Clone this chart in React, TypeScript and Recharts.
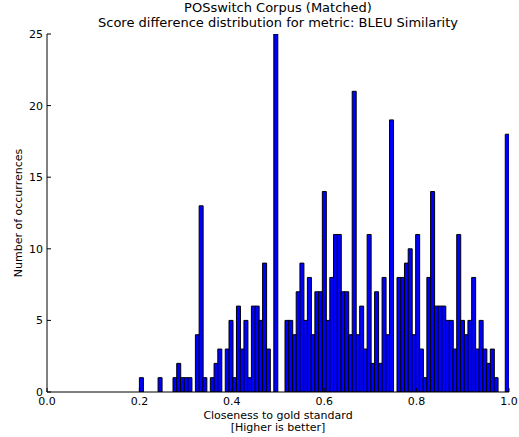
import React from "react";
import { BarChart, Bar, XAxis, YAxis } from "recharts";

const titleLines = ["POSswitch Corpus (Matched)", "Score difference distribution for metric: BLEU Similarity"];
const xLabelLines = ["Closeness to gold standard", "[Higher is better]"];
const yLabel = "Number of occurrences";

const binStart = 0.2;
const binEnd = 1.0;
const counts = [
  1, 0, 0, 0, 0, 1, 0, 0, 0, 1,
  2, 1, 1, 1, 0, 4, 13, 1, 0, 1,
  2, 3, 0, 3, 5, 1, 6, 3, 5, 1,
  6, 6, 5, 9, 3, 0, 25, 0, 0, 5,
  5, 4, 7, 9, 5, 8, 4, 7, 7, 14,
  5, 8, 11, 11, 7, 7, 4, 21, 4, 6,
  3, 11, 2, 7, 2, 8, 4, 19, 0, 8,
  8, 9, 10, 4, 11, 3, 1, 8, 14, 6,
  6, 6, 5, 5, 3, 11, 5, 4, 5, 8,
  3, 5, 3, 2, 3, 1, 0, 0, 18,
];
const xTicks = [0, 0.2, 0.4, 0.6, 0.8, 1.0];
const yTicks = [0, 5, 10, 15, 20, 25];

const binWidth = (binEnd - binStart) / counts.length;
const data = counts.map((c, i) => ({ x: binStart + (i + 0.5) * binWidth, count: c }));

const FONT = "DejaVu Sans";

const XLabel = (props: any) => {
  const vb = props.viewBox;
  const cx = vb.x + vb.width / 2;
  return (
    <g>
      <text x={cx} y={vb.y + 27} textAnchor="middle" fontFamily={FONT} fontSize={11} fill="#000">
        {xLabelLines[0]}
      </text>
      <text x={cx} y={vb.y + 39} textAnchor="middle" fontFamily={FONT} fontSize={11} fill="#000">
        {xLabelLines[1]}
      </text>
    </g>
  );
};

const YLabel = (props: any) => {
  const vb = props.viewBox;
  const x = 22;
  const y = vb.y + vb.height / 2;
  return (
    <text x={x} y={y} transform={`rotate(-90, ${x}, ${y})`} textAnchor="middle" fontFamily={FONT} fontSize={11} fill="#000">
      {yLabel}
    </text>
  );
};

export default function App() {
  return (
    <div style={{ position: "absolute", left: 0, top: 0, width: 519, height: 437, background: "#fff" }}>
      <svg width={519} height={34} style={{ position: "absolute", left: 0, top: 0 }}>
        <text x={278} y={12} textAnchor="middle" fontFamily={FONT} fontSize={13} fill="#000">{titleLines[0]}</text>
        <text x={278} y={27} textAnchor="middle" fontFamily={FONT} fontSize={13} fill="#000">{titleLines[1]}</text>
      </svg>
      <div style={{ position: "absolute", left: 0, top: 0 }}>
        <BarChart width={519} height={437} data={data} margin={{ top: 34, right: 10, bottom: 15, left: 0 }} barCategoryGap={0} barGap={0}>
          <XAxis
            xAxisId="bottom"
            dataKey="x"
            type="number"
            domain={[0, 1]}
            ticks={xTicks}
            allowDataOverflow
            tickFormatter={(v: number) => v.toFixed(1)}
            tickSize={-4}
            tickMargin={9}
            height={30}
            stroke="#000"
            tick={{ fill: "#000", fontFamily: FONT, fontSize: 11 }}
            label={{ content: XLabel }}
          />
          <XAxis
            xAxisId="top"
            dataKey="x"
            type="number"
            orientation="top"
            domain={[0, 1]}
            ticks={xTicks}
            allowDataOverflow
            tick={false}
            tickSize={-4}
            height={0}
            stroke="#000"
          />
          <YAxis
            yAxisId="left"
            type="number"
            domain={[0, 25]}
            ticks={yTicks}
            allowDataOverflow
            tickSize={-4}
            tickMargin={8}
            width={47}
            stroke="#000"
            tick={{ fill: "#000", fontFamily: FONT, fontSize: 11 }}
            label={{ content: YLabel }}
          />
          <YAxis
            yAxisId="right"
            type="number"
            orientation="right"
            domain={[0, 25]}
            ticks={yTicks}
            allowDataOverflow
            tick={false}
            tickSize={-4}
            width={0}
            stroke="#000"
          />
          <Bar
            dataKey="count"
            xAxisId="bottom"
            yAxisId="left"
            fill="#0000ff"
            stroke="#000"
            strokeWidth={1}
            isAnimationActive={false}
          />
        </BarChart>
      </div>
    </div>
  );
}
